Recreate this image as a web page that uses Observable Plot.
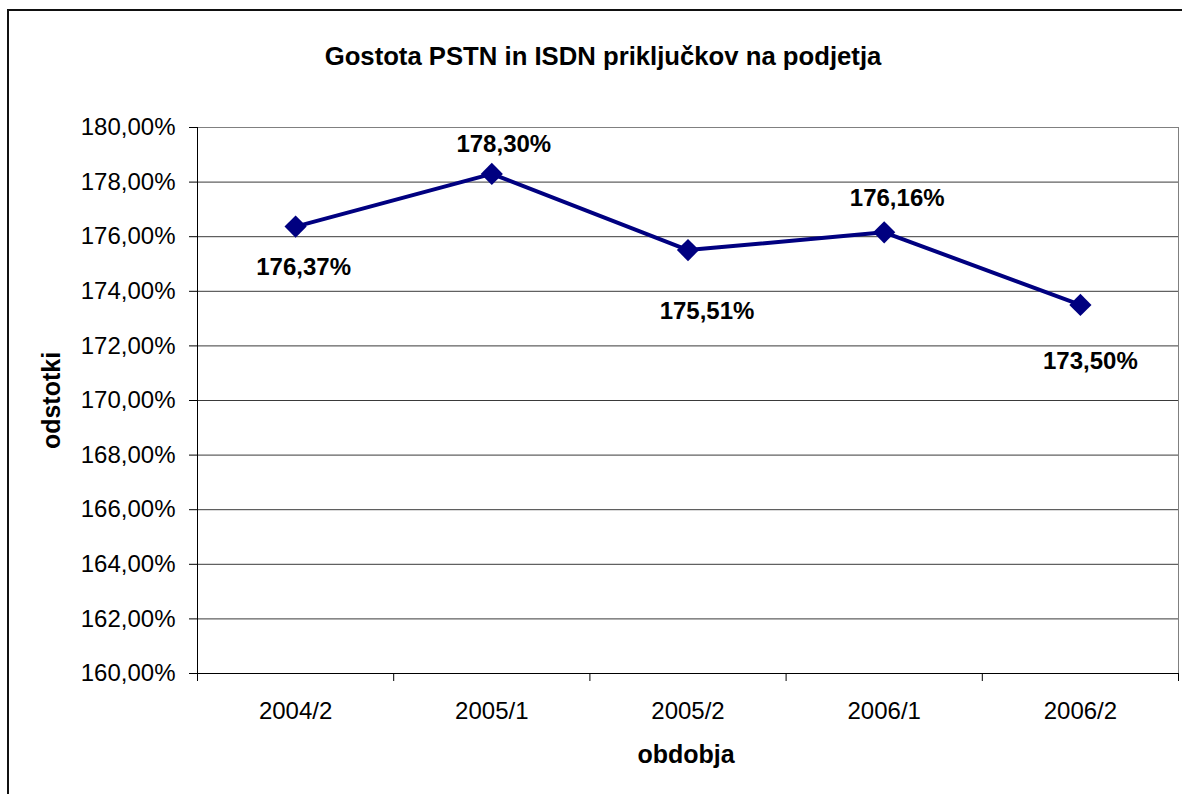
<!DOCTYPE html>
<html>
<head>
<meta charset="utf-8">
<script src="https://cdn.jsdelivr.net/npm/d3@7"></script>
<script src="https://cdn.jsdelivr.net/npm/@observablehq/plot@0.6"></script>
<style>
  html, body { margin: 0; padding: 0; background: #fff; }
  #wrap { position: relative; width: 1182px; height: 794px; overflow: hidden; }
  #border { position: absolute; left: 7px; top: 9px; width: 2000px; height: 2000px;
            border-left: 2px solid #111; border-top: 2px solid #111; pointer-events: none; }
</style>
</head>
<body>
<div id="wrap"><div id="chart"></div><div id="border"></div></div>
<script>
const title = "Gostota PSTN in ISDN priključkov na podjetja";
const xTitle = "obdobja";
const yTitle = "odstotki";
const categories = ["2004/2", "2005/1", "2005/2", "2006/1", "2006/2"];
const values = [176.37, 178.30, 175.51, 176.16, 173.50];
const yTicks = [160, 162, 164, 166, 168, 170, 172, 174, 176, 178, 180];

const fmt = v => v.toFixed(2).replace(".", ",") + "%";
const data = categories.map((c, i) => ({ i, period: c, value: values[i] }));
const xPos = d => d.i + 0.5;
const navy = "#000080";

// manual label nudges (as placed in the original chart)
const nudge = [[8, 41], [12, -30], [19, 61], [13, -34], [10, 56]];

const labelMarks = data.map((d, k) =>
  Plot.text([d], {
    x: xPos, y: "value", text: d => fmt(d.value),
    dx: nudge[k][0], dy: nudge[k][1],
    fontSize: 24, fontWeight: "bold", fill: "#000",
    textAnchor: "middle", lineAnchor: "middle"
  })
);

const chart = Plot.plot({
  width: 1182,
  height: 794,
  marginLeft: 197,
  marginRight: 4,
  marginTop: 127,
  marginBottom: 121,
  style: { fontFamily: "'Liberation Sans', Arial, sans-serif", background: "#fff", color: "#000" },
  x: { type: "linear", domain: [0, categories.length], axis: null },
  y: { domain: [160, 180], axis: null },
  marks: [
    Plot.gridY(yTicks, { stroke: "#3a3a3a", strokeOpacity: 1 }),
    Plot.frame({ stroke: "#808080" }),
    Plot.ruleX([0], { stroke: "#000" }),
    Plot.ruleY([160], { stroke: "#000" }),
    Plot.axisY(yTicks, { tickSize: 8, tickPadding: 14, tickFormat: fmt, fontSize: 24, label: null }),
    Plot.axisX(d3.range(categories.length + 1), { tickSize: 8, tickFormat: () => "", label: null }),
    Plot.axisX(categories.map((c, i) => i + 0.5), {
      tickSize: 0, tickPadding: 28, fontSize: 24, label: null,
      tickFormat: v => categories[Math.floor(v)]
    }),
    Plot.line(data, { x: xPos, y: "value", stroke: navy, strokeWidth: 4 }),
    Plot.dot(data, { x: xPos, y: "value", symbol: "diamond2", r: 10, fill: navy, stroke: "none" }),
    ...labelMarks,
    Plot.text([title], {
      frameAnchor: "top", dx: -85, dy: -71, text: d => d,
      fontSize: 25.7, fontWeight: "bold", textAnchor: "middle", lineAnchor: "middle"
    }),
    Plot.text([xTitle], {
      frameAnchor: "bottom", dx: -2, dy: 81, text: d => d,
      fontSize: 25, fontWeight: "bold", textAnchor: "middle", lineAnchor: "middle"
    }),
    Plot.text([yTitle], {
      frameAnchor: "left", dx: -146, text: d => d, rotate: -90,
      fontSize: 25, fontWeight: "bold", textAnchor: "middle", lineAnchor: "middle"
    })
  ]
});
document.getElementById("chart").appendChild(chart);
</script>
</body>
</html>
